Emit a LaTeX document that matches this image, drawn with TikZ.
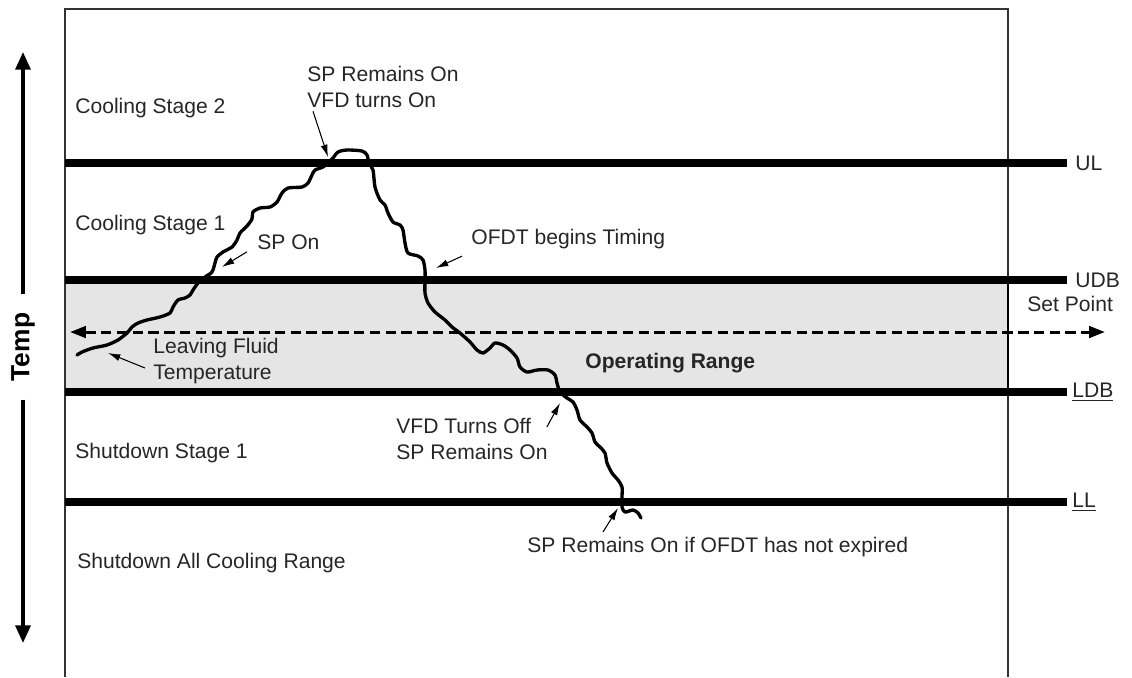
\documentclass[tikz,border=0pt]{standalone}
\usepackage{fontspec}
\setmainfont{Liberation Sans}
\usetikzlibrary{arrows.meta}

\begin{document}
\begin{tikzpicture}[
    x=0.02cm, y=-0.02cm,
    lbl/.style={anchor=west, inner sep=0pt, align=left, text=black!85,
        font=\fontsize{12}{15}\selectfont},
    limit/.style={line width=4pt},
    frameline/.style={line width=1.1pt, black!80},
    fluid/.style={line width=1.9pt, line join=round, line cap=round},
    pointer/.style={-{Latex[length=7pt,width=4pt]}, line width=0.6pt},
    bigarrow/.style={-{Triangle[length=10pt,width=8.5pt]}, line width=1.9pt},
    setline/.style={{Triangle[length=9pt,width=6.5pt]}-{Triangle[length=9pt,width=6.5pt]},
        line width=1.7pt, dash pattern=on 6pt off 3pt}
]
    \useasboundingbox (0,0) rectangle (1132,677);

    \fill[black!10] (65,280) rectangle (1008,392);
    \draw[frameline] (65,677) -- (65,9) -- (1008,9) -- (1008,677);
    \draw[line width=1.6pt] (1008,280) -- (1008,392);

    \draw[setline] (70,332) -- (1105,332);

    \foreach \yy in {163,280,392,502}
        \draw[limit] (65,\yy) -- (1067,\yy);

    \draw[fluid] plot[smooth, tension=0.45] coordinates {
        (77,355) (82,352) (93,348) (107,345) (118,340) (127,333) (132,327)
        (138,323) (147,320) (160,317) (170,313) (173,307) (178,300) (185,298)
        (190,295) (193,290) (198,283) (205,277) (212,272) (215,263) (217,257)
        (223,252) (232,247) (237,240) (240,233) (247,226) (252,219) (253,212)
        (260,208) (270,207) (277,202) (282,193) (288,188) (302,187) (308,183)
        (312,175) (315,170) (323,167) (328,163) (333,158) (338,152) (347,150)
        (362,151) (367,155) (369,163) (373,170) (375,187) (380,200) (385,205)
        (388,213) (393,222) (400,225) (403,230) (405,243) (408,253) (418,256)
        (423,260) (425,270) (425,280) (425,293) (428,303) (435,312) (445,320)
        (452,327) (460,333) (470,342) (477,350) (483,353) (490,348) (495,343)
        (503,345) (510,350) (517,358) (520,367) (527,372) (537,370) (548,370)
        (555,375) (557,383) (560,392) (567,398) (573,402) (577,410) (580,420)
        (587,427) (592,433) (595,442) (600,447) (605,453) (607,463) (612,473)
        (618,480) (622,487) (622,497) (622,507) (625,512) (633,510) (638,513)
        (641,518)};

    \coordinate (atUL) at (328,157);
    \coordinate (atSP) at (222,267);
    \coordinate (atUDB) at (436,268);
    \coordinate (atStart) at (108,353);
    \coordinate (atLDB) at (560,403);
    \coordinate (atLL) at (618,508);

    \node[lbl] (cs2) at (75,108) {Cooling Stage 2};
    \node[lbl] (cs1) at (75,225) {Cooling Stage 1};
    \node[lbl] (ss1) at (75,453) {Shutdown Stage 1};
    \node[lbl] (sdall) at (77,563) {Shutdown All Cooling Range};
    \node[lbl] (vfdon) at (307,87) {SP Remains On\\VFD turns On};
    \node[lbl] (spon) at (257,242) {SP On};
    \node[lbl] (ofdt) at (471,239) {OFDT begins Timing};
    \node[lbl] (lft) at (153,361) {Leaving Fluid\\Temperature};
    \node[lbl] (oprange) at (585,363) {\bfseries Operating Range};
    \node[lbl] (vfdoff) at (396,439) {VFD Turns Off\\SP Remains On};
    \node[lbl] (expire) at (527,547) {SP Remains On if OFDT has not expired};
    \node[lbl] (ul) at (1075,163) {UL};
    \node[lbl] (udb) at (1075,280) {UDB};
    \node[lbl] (setp) at (1027,304) {Set Point};
    \node[lbl] (ldb) at (1072,392) {\underline{LDB}};
    \node[lbl] (ll) at (1072,502) {\underline{LL}};
    \node[rotate=90, inner xsep=10.5pt, inner ysep=0pt, outer sep=0pt,
        font=\bfseries\fontsize{15}{18}\selectfont] (temp) at (23,347) {Temp};

    \coordinate (tempHi) at (23,52);
    \coordinate (tempLo) at (23,643);
    \draw[bigarrow] (temp.east) -- (tempHi);
    \draw[bigarrow] (temp.west) -- (tempLo);

    \draw[pointer] ([shift={(6,3)}]vfdon.south west) -- (atUL);
    \draw[pointer] ([shift={(-10,2)}]spon.south west) -- (atSP);
    \draw[pointer] ([shift={(-9,7)}]ofdt.south west) -- (atUDB);
    \draw[pointer] ([shift={(-8,7)}]lft.west) -- (atStart);
    \draw[pointer] ([shift={(-1,-12)}]vfdoff.east) -- (atLDB);
    \draw[pointer] ([shift={(76,-15)}]expire.west) -- (atLL);
\end{tikzpicture}
\end{document}
